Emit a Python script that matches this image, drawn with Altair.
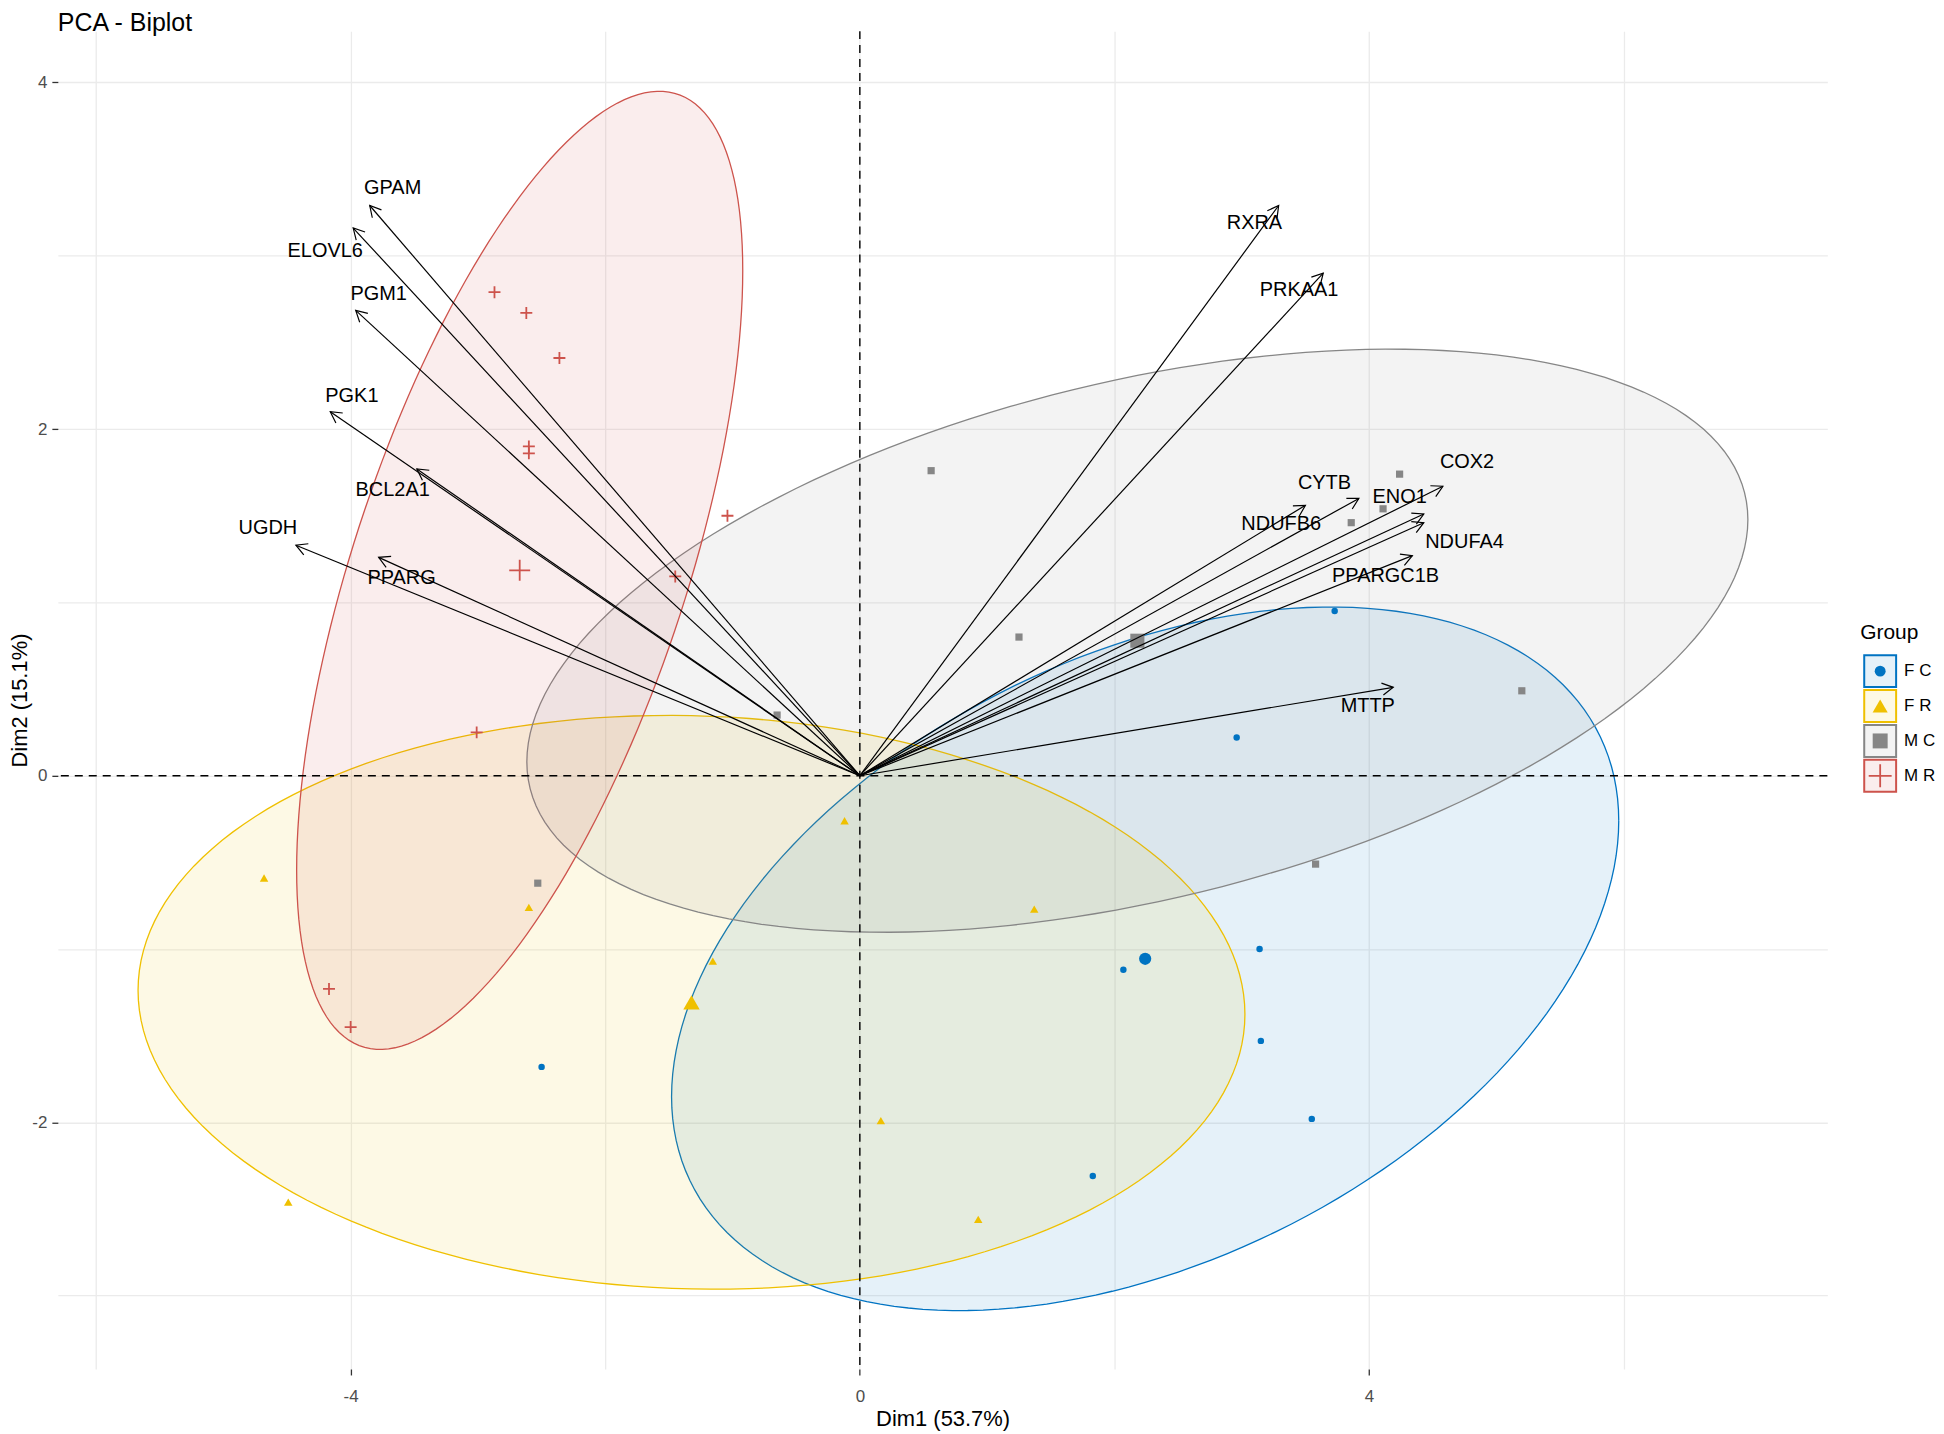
import altair as alt
import numpy as np
import pandas as pd

# ---------------- data ----------------
groups = ["F C", "F R", "M C", "M R"]
group_colors = ["#0073C2", "#EFC000", "#868686", "#CD534C"]

fc_x = [3.73, 2.96, 3.14, 2.07, 3.15, 3.55, 1.83, -2.50]
fc_y = [0.95, 0.22, -1.00, -1.12, -1.53, -1.98, -2.31, -1.68]
fr_x = [-4.68, -4.49, -2.60, -1.155, -0.12, 1.37, 0.165, 0.93]
fr_y = [-0.59, -2.46, -0.76, -1.07, -0.26, -0.77, -1.99, -2.56]
mc_x = [0.56, 4.24, 4.11, 3.86, 1.25, 5.20, -0.65, -2.53, 3.58]
mc_y = [1.76, 1.74, 1.54, 1.46, 0.80, 0.49, 0.35, -0.62, -0.51]
mr_x = [-2.87, -2.62, -2.36, -2.60, -2.60, -1.04, -1.45, -3.01, -4.17, -4.00]
mr_y = [2.79, 2.67, 2.41, 1.90, 1.86, 1.50, 1.15, 0.25, -1.23, -1.45]

var_names = ["GPAM", "ELOVL6", "PGM1", "PGK1", "BCL2A1", "UGDH", "PPARG",
             "RXRA", "PRKAA1", "CYTB", "NDUFB6", "COX2", "ENO1", "NDUFA4",
             "PPARGC1B", "MTTP"]
var_x = [-3.85, -3.98, -3.96, -4.16, -3.48, -4.43, -3.78,
         3.29, 3.64, 3.92, 3.50, 4.58, 4.43, 4.43, 4.34, 4.19]
var_y = [3.29, 3.16, 2.685, 2.10, 1.77, 1.33, 1.26,
         3.29, 2.90, 1.60, 1.56, 1.67, 1.51, 1.46, 1.27, 0.51]
lab_x = [-3.67, -4.20, -3.78, -3.99, -3.67, -4.65, -3.60,
         3.10, 3.45, 3.65, 3.31, 4.77, 4.24, 4.75, 4.13, 3.99]
lab_y = [3.39, 3.03, 2.78, 2.19, 1.65, 1.43, 1.14,
         3.19, 2.80, 1.69, 1.45, 1.81, 1.61, 1.35, 1.15, 0.40]

# ellipse shape matrices [[a, b], [b, c]]
ell_a = [13.84, 18.9, 23.0, 3.07]
ell_b = [2.96, -0.3, 3.35, 3.03]
ell_c = [4.12, 2.74, 2.83, 7.64]

x_grid = [-6, -4, -2, 0, 2, 4, 6]
y_grid = [-3, -2, -1, 0, 1, 2, 3, 4]

# ---------------- layout constants ----------------
X_DOM = [-6.30, 7.60]
Y_DOM = [-3.423, 4.296]
W, H = 1775, 1342
KX = W / (X_DOM[1] - X_DOM[0])
KY = H / (Y_DOM[1] - Y_DOM[0])
FONT = "Liberation Sans"

# ---------------- tables ----------------
gx = [fc_x, fr_x, mc_x, mr_x]
gy = [fc_y, fr_y, mc_y, mr_y]
pts = pd.concat([pd.DataFrame({"group": g, "x": xs, "y": ys})
                 for g, xs, ys in zip(groups, gx, gy)], ignore_index=True)

ell_rows = []
t = np.linspace(0, 2 * np.pi, 181)
for g, xs, ys, a, b, c in zip(groups, gx, gy, ell_a, ell_b, ell_c):
    L = np.linalg.cholesky(np.array([[a, b], [b, c]]))
    circ = np.vstack([np.cos(t), np.sin(t)])
    e = L @ circ
    cx, cy = np.mean(xs), np.mean(ys)
    for i in range(len(t)):
        ell_rows.append({"group": g, "i": i, "x": cx + e[0, i], "y": cy + e[1, i]})
ell = pd.DataFrame(ell_rows)

vars_df = pd.DataFrame({"name": var_names, "vx": var_x, "vy": var_y,
                        "lx": lab_x, "ly": lab_y})
zero_df = pd.DataFrame({"zero": [0]})

# ---------------- encodings ----------------
x_axis = alt.Axis(values=x_grid, title="Dim1 (53.7%)",
                  labelExpr="datum.value % 4 == 0 ? '' + datum.value : ''",
                  grid=True, gridColor="#EBEBEB", gridWidth=1.3, domain=False,
                  tickSize=6, tickColor="#333333", tickWidth=1.3,
                  tickOpacity=alt.condition("datum.value % 4 == 0", alt.value(1), alt.value(0)),
                  labelFont=FONT, labelFontSize=17, labelColor="#4D4D4D", labelPadding=14,
                  titleFont=FONT, titleFontSize=22, titleFontWeight="normal",
                  titleColor="black", titlePadding=4)
y_axis = alt.Axis(values=y_grid, title="Dim2 (15.1%)",
                  labelExpr="datum.value % 2 == 0 ? '' + datum.value : ''",
                  grid=True, gridColor="#EBEBEB", gridWidth=1.3, domain=False,
                  tickSize=6, tickColor="#333333", tickWidth=1.3,
                  tickOpacity=alt.condition("datum.value % 2 == 0", alt.value(1), alt.value(0)),
                  labelFont=FONT, labelFontSize=17, labelColor="#4D4D4D", labelPadding=5,
                  titleFont=FONT, titleFontSize=22, titleFontWeight="normal",
                  titleColor="black", titlePadding=0)
xs_ = alt.Scale(domain=X_DOM, nice=False, zero=False)
ys_ = alt.Scale(domain=Y_DOM, nice=False, zero=False)


def X(f):
    return alt.X(f, type="quantitative", scale=xs_, axis=x_axis)


def Y(f):
    return alt.Y(f, type="quantitative", scale=ys_, axis=y_axis)


layers = []

# ellipses
for g, col in zip(groups, group_colors):
    layers.append(
        alt.Chart(ell).transform_filter(alt.datum.group == g)
        .mark_line(fill=col, fillOpacity=0.1, stroke=col, strokeWidth=1.3)
        .encode(x=X("x"), y=Y("y"), order=alt.Order("i:Q"))
    )

# zero dashed lines
layers.append(alt.Chart(zero_df).mark_rule(color="black", strokeDash=[8, 6], strokeWidth=1.4)
              .encode(y=Y("zero")))
layers.append(alt.Chart(zero_df).mark_rule(color="black", strokeDash=[8, 6], strokeWidth=1.4)
              .encode(x=X("zero")))

cross_path = "M -1 0 L 1 0 M 0 -1 L 0 1"
shapes = ["circle", "triangle-up", "square", cross_path]
small_sizes = [42, 72, 52, 144]
big_sizes = [150, 270, 200, 441]

for g, col, shp, s_small, s_big in zip(groups, group_colors, shapes, small_sizes, big_sizes):
    is_cross = shp == cross_path
    if is_cross:
        mk = dict(shape=shp, filled=False, stroke=col, strokeWidth=1.8, opacity=1)
    else:
        mk = dict(shape=shp, filled=True, color=col, opacity=1, strokeWidth=0)
    base = alt.Chart(pts).transform_filter(alt.datum.group == g)
    layers.append(base.mark_point(size=s_small, **mk).encode(x=X("x"), y=Y("y")))
    layers.append(
        base.transform_aggregate(mx="mean(x)", my="mean(y)", groupby=["group"])
        .mark_point(size=s_big, **mk).encode(x=X("mx"), y=Y("my"))
    )

# arrows
layers.append(alt.Chart(vars_df).mark_rule(color="black", strokeWidth=1.2)
              .encode(x=X("vx"), y=Y("vy"), x2=alt.X2(datum=0), y2=alt.Y2(datum=0)))
chevron = "M -1 -0.55 L 0 0 L -1 0.55"
layers.append(
    alt.Chart(vars_df)
    .transform_calculate(ang=f"(atan2(-datum.vy * {KY:.4f}, datum.vx * {KX:.4f}) * 180 / PI + 360) % 360")
    .mark_point(shape=chevron, filled=False, stroke="black", strokeWidth=1.2, size=484, opacity=1)
    .encode(x=X("vx"), y=Y("vy"), angle=alt.Angle("ang:Q", scale=None))
)
layers.append(
    alt.Chart(vars_df).mark_text(font=FONT, fontSize=20, color="black", align="center", baseline="middle")
    .encode(x=X("lx"), y=Y("ly"), text="name:N")
)

main = alt.layer(*layers).properties(
    width=W, height=H,
    title=alt.TitleParams("PCA - Biplot", anchor="start", frame="group", font=FONT, fontSize=25,
                          fontWeight="normal", color="black", offset=-6),
)

# ---------------- legend panel ----------------
leg_df = pd.DataFrame({"group": groups})
leg_y = alt.Y("group:N", axis=None,
              scale=alt.Scale(domain=groups, type="point", padding=0.7, align=0.357))
leg_layers = []
leg_sizes = [120, 230, 225, 529]
for g, col, shp, s in zip(groups, group_colors, shapes, leg_sizes):
    b = alt.Chart(leg_df).transform_filter(alt.datum.group == g)
    leg_layers.append(b.mark_square(size=1024, fill=col, fillOpacity=0.1, stroke=col,
                                    strokeWidth=2, opacity=1).encode(y=leg_y))
    if shp == cross_path:
        leg_layers.append(b.mark_point(shape=shp, size=s, filled=False, stroke=col,
                                       strokeWidth=1.8, opacity=1).encode(y=leg_y))
    else:
        leg_layers.append(b.mark_point(shape=shp, size=s, filled=True, color=col,
                                       strokeWidth=0, opacity=1).encode(y=leg_y))
leg_layers.append(alt.Chart(leg_df).mark_text(align="left", dx=24, font=FONT, fontSize=17,
                                              color="black", baseline="middle")
                  .encode(y=leg_y, text="group:N"))
legend = alt.layer(*leg_layers).properties(
    width=34, height=154,
    title=alt.TitleParams("Group", anchor="start", font=FONT, fontSize=21,
                          fontWeight="normal", color="black", offset=8),
)

chart = alt.hconcat(main, legend, spacing=32, center=True).properties(
    padding={"left": 0, "top": 1, "right": 0, "bottom": 0}
).configure_view(strokeWidth=0)

chart.save("out.html", embed_options={"renderer": "svg", "actions": False})
